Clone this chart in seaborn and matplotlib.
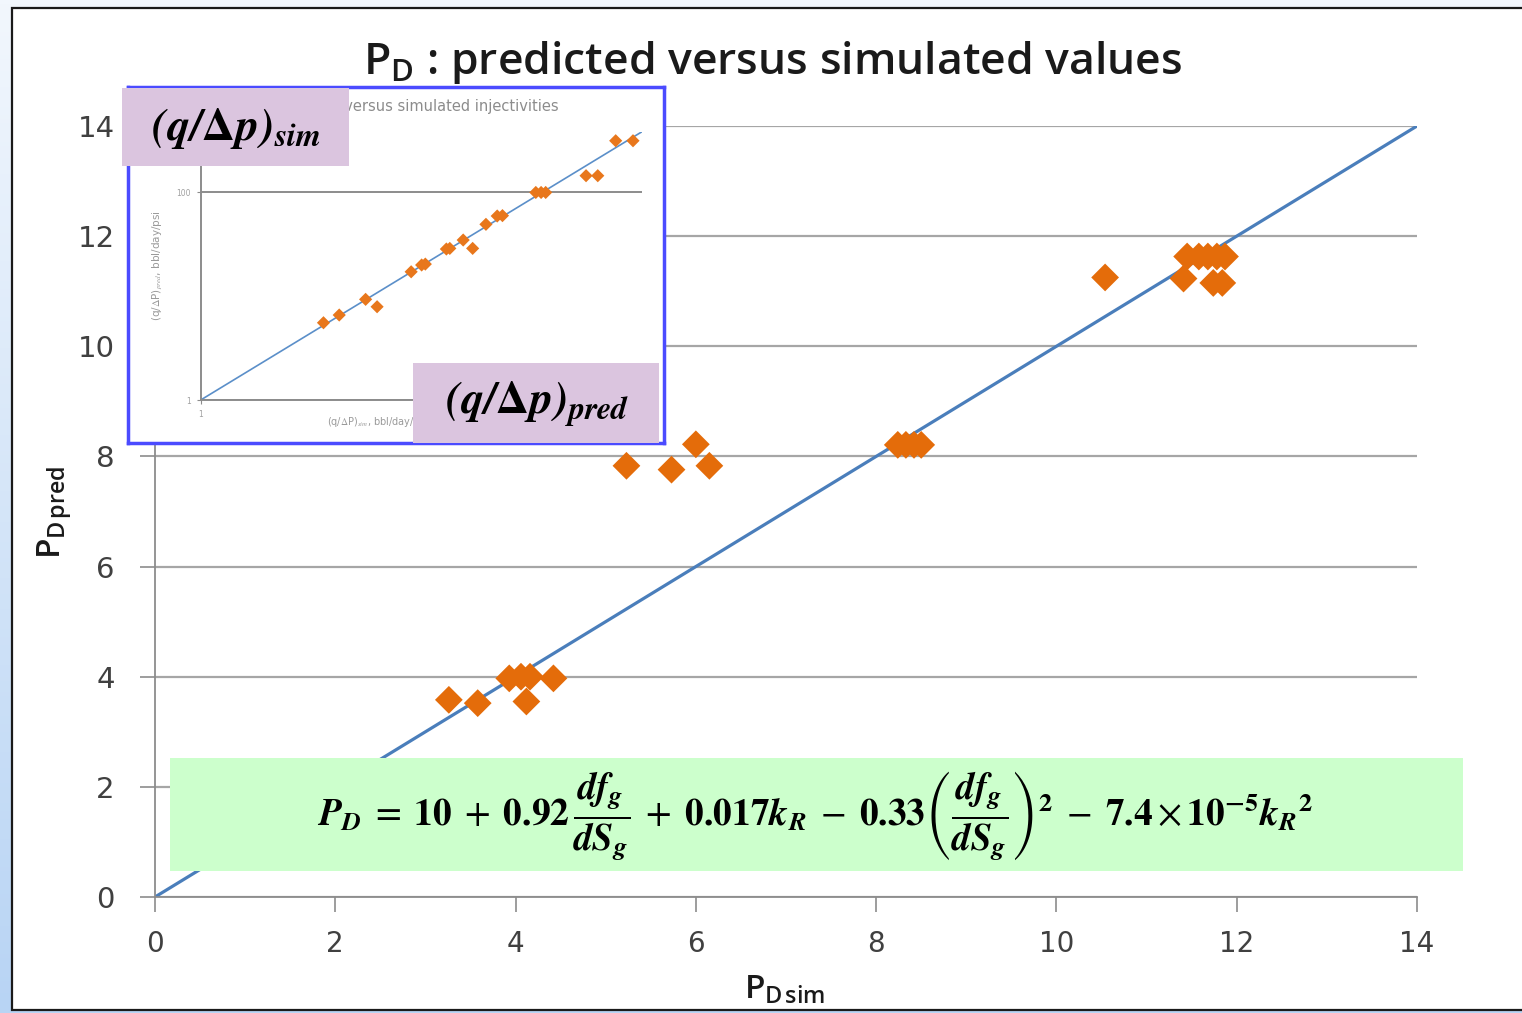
import matplotlib
matplotlib.use("Agg")
import numpy as np
import matplotlib.pyplot as plt
import seaborn as sns
from matplotlib.patches import Rectangle
from matplotlib.colors import LinearSegmentedColormap

# Main chart: P_D simulated vs predicted
pd_sim = [3.26, 3.58, 3.93, 4.06, 4.16, 4.42, 4.12,
          5.23, 5.73, 6.00, 6.15,
          8.24, 8.33, 8.42, 8.50,
          10.54, 11.41, 11.45, 11.58, 11.68, 11.78, 11.87, 11.74, 11.84]
pd_pred = [3.58, 3.52, 3.97, 4.00, 4.00, 3.97, 3.55,
           7.83, 7.76, 8.22, 7.83,
           8.21, 8.21, 8.21, 8.21,
           11.25, 11.23, 11.63, 11.63, 11.63, 11.63, 11.63, 11.15, 11.15]
parity = [0, 14]
main_ticks = [0, 2, 4, 6, 8, 10, 12, 14]

# Inset: predicted vs simulated injectivities (log-log)
inj_sim = [5.24, 6.48, 9.25, 10.8, 17.1, 19.7, 20.7, 27.5, 28.8, 34.5, 39.2,
           46.9, 54.6, 58.6, 91.9, 98.7, 105, 181, 212, 270, 341]
inj_pred = [5.55, 6.59, 9.33, 7.92, 17.2, 20.0, 20.4, 28.5, 28.9, 34.8, 28.9,
            49.3, 59.3, 59.8, 100, 100, 100, 145, 145, 315, 315]
inj_parity = [1, 385]
inj_ticks = [1, 100]

title = r"$\mathregular{P_D}$ : predicted versus simulated values"
xlabel = r"$\mathregular{P_{D\,sim}}$"
ylabel = r"$\mathregular{P_{D\,pred}}$"
formula = (r"$\mathbfit{P_D}\;=\;\mathbf{10}\;+\;\mathbf{0.92}\,\dfrac{\mathbfit{df_g}}{\mathbfit{dS_g}}"
           r"\;+\;\mathbf{0.017}\mathbfit{k_R}\;-\;\mathbf{0.33}\left(\dfrac{\mathbfit{df_g}}{\mathbfit{dS_g}}\right)^{\mathbf{2}}"
           r"\;-\;\mathbf{7.4}\times\mathbf{10}^{\mathbf{-5}}\mathbfit{k_R}^{\mathbf{2}}$")
lab_sim = r"$\mathbfit{(q/}\mathbf{\Delta}\mathbfit{p)}_{\mathbfit{sim}}$"
lab_pred = r"$\mathbfit{(q/}\mathbf{\Delta}\mathbfit{p)}_{\mathbfit{pred}}$"
inset_title = "Predicted versus simulated injectivities"
inset_xlabel = r"(q/$\Delta$P)$_{sim}$, bbl/day/psi"
inset_ylabel = r"(q/$\Delta$P)$_{pred}$, bbl/day/psi"

sns.set_style("white")
plt.rcParams["font.family"] = ["DejaVu Sans"]
plt.rcParams["mathtext.fontset"] = "stix"

W, H = 1522, 1013
fig = plt.figure(figsize=(W / 100, H / 100), dpi=100)


def px_rect(x0, y0, x1, y1):
    return [x0 / W, 1 - y1 / H, (x1 - x0) / W, (y1 - y0) / H]


# background: bluish gradient with a white framed panel
bg = fig.add_axes([0, 0, 1, 1], zorder=0)
grad = np.linspace(0, 1, 256).reshape(-1, 1)
cmap = LinearSegmentedColormap.from_list("bgblue", ["#F2F7FD", "#B8D4F4"])
bg.imshow(grad, aspect="auto", cmap=cmap, extent=[0, W, H, 0])
bg.set_xlim(0, W)
bg.set_ylim(H, 0)
bg.add_patch(Rectangle((12, 8), W + 10, 1002, fc="white", ec="#1A1A1A", lw=1.6))
bg.axis("off")

# main axes
ax = fig.add_axes(px_rect(155, 126, 1417, 897), zorder=1)
ax.patch.set_alpha(0)
sns.lineplot(x=parity, y=parity, ax=ax, color="#4A7EBB", lw=2.3, zorder=2)
sns.scatterplot(x=pd_sim, y=pd_pred, ax=ax, marker="D", s=200, color="#E46C0A",
                edgecolor="none", linewidth=0, zorder=3)
ax.set_xlim(0, 14)
ax.set_ylim(0, 14)
ax.set_xticks(main_ticks)
ax.set_yticks(main_ticks)
ax.yaxis.grid(True, color="#A6A6A6", lw=1.6)
ax.xaxis.grid(False)
ax.set_axisbelow(True)
for side in ["top", "right"]:
    ax.spines[side].set_visible(False)
for side in ["left", "bottom"]:
    ax.spines[side].set_color("#8C8C8C")
    ax.spines[side].set_linewidth(1.3)
ax.tick_params(axis="y", direction="out", length=11, width=1.2, color="#8C8C8C",
               pad=18, labelsize=21, labelcolor="#404040", left=True)
ax.tick_params(axis="x", direction="out", length=11, width=1.2, color="#8C8C8C",
               pad=13, labelsize=20, labelcolor="#404040", bottom=True)
ax.set_xlabel("")
ax.set_ylabel("")

# inset frame
frame = fig.add_axes(px_rect(128, 87, 664, 443), zorder=3)
frame.set_facecolor("white")
frame.set_xticks([])
frame.set_yticks([])
for s in frame.spines.values():
    s.set_color("#4B4BFF")
    s.set_linewidth(2.5)

# inset chart
ins = fig.add_axes(px_rect(200.7, 131.7, 642, 400), zorder=4)
ins.patch.set_alpha(0)
sns.lineplot(x=inj_parity, y=inj_parity, ax=ins, color="#5B8FC9", lw=1.2, zorder=2)
sns.scatterplot(x=inj_sim, y=inj_pred, ax=ins, marker="D", s=45, color="#E8771C",
                edgecolor="none", linewidth=0, zorder=3)
ins.set_xscale("log")
ins.set_yscale("log")
ins.set_xlim(1, 385)
ins.set_ylim(1, 385)
ins.set_xticks(inj_ticks)
ins.set_yticks(inj_ticks)
# the x label at 100 sits under the annotation box, so only "1" is written
ins.set_xticklabels(["1", ""])
ins.set_yticklabels(["1", "100"])
ins.minorticks_off()
ins.yaxis.grid(True, color="#8C8C8C", lw=1.4)
ins.xaxis.grid(False)
for side in ["top", "right"]:
    ins.spines[side].set_visible(False)
for side in ["left", "bottom"]:
    ins.spines[side].set_color("#8C8C8C")
    ins.spines[side].set_linewidth(1.4)
ins.tick_params(length=3, width=0.8, color="#8C8C8C", labelsize=5.5,
                labelcolor="#A0A0A0", pad=4, left=True, bottom=True)
ins.set_xlabel("")
ins.set_ylabel("")

# overlay: titles, labels, annotation boxes
ov = fig.add_axes([0, 0, 1, 1], zorder=5)
ov.set_xlim(0, W)
ov.set_ylim(H, 0)
ov.axis("off")
ov.patch.set_alpha(0)

ov.text(773, 62, title, ha="center", va="center", fontsize=32,
        color="#1A1A1A", family="Open Sans", weight="semibold")
ov.text(785, 990, xlabel, ha="center", va="center", fontsize=24,
        color="#1A1A1A", family="Open Sans", weight="semibold")
ov.text(55, 512, ylabel, ha="center", va="center", rotation=90, fontsize=24,
        color="#1A1A1A", family="Open Sans", weight="semibold")

ov.text(415, 106, inset_title, ha="center", va="center", fontsize=10.5,
        color="#8C8C8C", zorder=1)
ov.text(158, 266, inset_ylabel, ha="center", va="center", rotation=90,
        fontsize=7.5, color="#9A9A9A", zorder=1)
ov.text(327, 422, inset_xlabel, ha="left", va="center", fontsize=7,
        color="#9A9A9A", zorder=1)

ov.add_patch(Rectangle((122, 88), 227, 78, fc="#DBC5DF", ec="none", zorder=2))
ov.add_patch(Rectangle((413, 363), 246, 80, fc="#DBC5DF", ec="none", zorder=2))
ov.text(236, 128, lab_sim, ha="center", va="center", fontsize=33, color="black", zorder=3)
ov.text(537, 404, lab_pred, ha="center", va="center", fontsize=33, color="black", zorder=3)

ov.add_patch(Rectangle((170, 758), 1293, 113, fc="#CCFFCC", ec="none", zorder=2))
ov.text(815, 816, formula, ha="center", va="center", fontsize=27, color="black", zorder=3)

fig.savefig("out.png", dpi=100)
